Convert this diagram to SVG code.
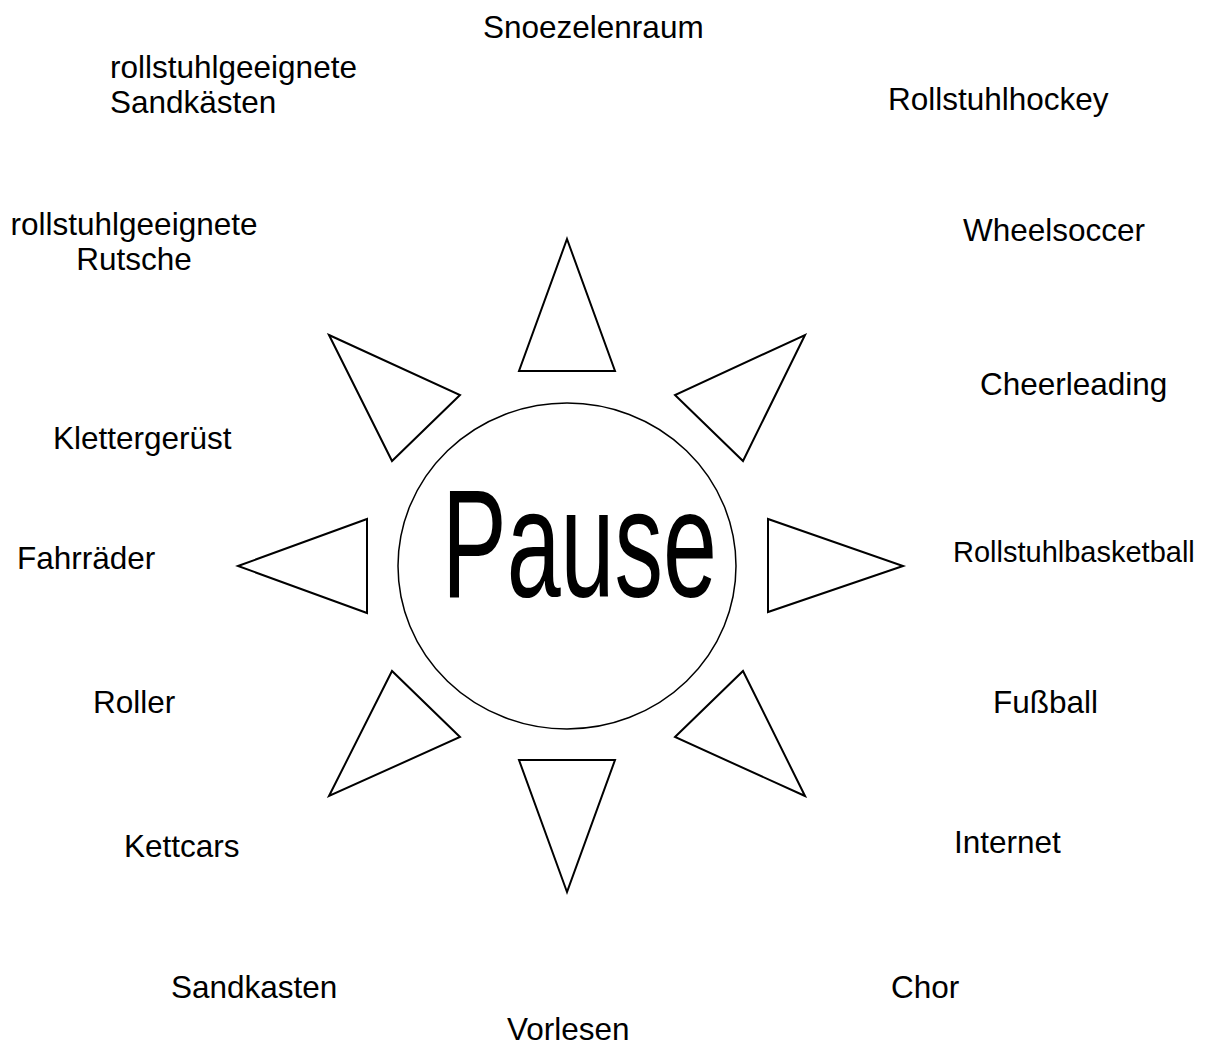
<svg xmlns="http://www.w3.org/2000/svg" width="1211" height="1045" viewBox="0 0 1211 1045">
<style>
.t{font-family:"Liberation Sans",Arial,sans-serif;font-size:31.5px;fill:#000}
.s{font-family:"Liberation Sans",Arial,sans-serif;font-size:29px;fill:#000}
.ray{fill:#fff;stroke:#000;stroke-width:2;stroke-linejoin:miter}
.sun{fill:#fff;stroke:#000;stroke-width:1.5}
</style>
<rect width="1211" height="1045" fill="#fff"/>
<g id="sun">
<ellipse class="sun" cx="567" cy="566" rx="169" ry="163"/>
<text x="442" y="597" font-family="'Liberation Sans',Arial,sans-serif" font-size="154" textLength="275" lengthAdjust="spacingAndGlyphs">Pause</text>
</g>
<g id="rays">
<polygon id="ray-n" class="ray" points="567,239 615,371 519,371"/>
<polygon id="ray-ne" class="ray" points="805,335 743,461 675,395"/>
<polygon id="ray-e" class="ray" points="903,566 768,612 768,519"/>
<polygon id="ray-se" class="ray" points="805,796 675,737 743,671"/>
<polygon id="ray-s" class="ray" points="567,892 519,760 615,760"/>
<polygon id="ray-sw" class="ray" points="329,796 392,671 460,737"/>
<polygon id="ray-w" class="ray" points="238,566 367,519 367,613"/>
<polygon id="ray-nw" class="ray" points="329,335 460,395 392,461"/>
</g>
<g id="labels">
<text id="snoezelenraum" class="t" x="483" y="38">Snoezelenraum</text>
<text id="sandkaesten2" class="t" x="110" y="78">rollstuhlgeeignete<tspan x="110" y="113">Sandkästen</tspan></text>
<text id="rutsche" class="t" x="134" y="235" text-anchor="middle">rollstuhlgeeignete<tspan x="134" y="270">Rutsche</tspan></text>
<text id="klettergeruest" class="t" x="53" y="449">Klettergerüst</text>
<text id="fahrraeder" class="t" x="17" y="569">Fahrräder</text>
<text id="roller" class="t" x="93" y="713">Roller</text>
<text id="kettcars" class="t" x="124" y="857">Kettcars</text>
<text id="sandkasten" class="t" x="171" y="998">Sandkasten</text>
<text id="vorlesen" class="t" x="507" y="1040">Vorlesen</text>
<text id="chor" class="t" x="891" y="998">Chor</text>
<text id="internet" class="t" x="954" y="853">Internet</text>
<text id="fussball" class="t" x="993" y="713">Fußball</text>
<text id="rollstuhlbasketball" class="s" x="953" y="562">Rollstuhlbasketball</text>
<text id="cheerleading" class="t" x="980" y="395">Cheerleading</text>
<text id="wheelsoccer" class="t" x="963" y="241">Wheelsoccer</text>
<text id="rollstuhlhockey" class="t" x="888" y="110">Rollstuhlhockey</text>
</g>
</svg>
